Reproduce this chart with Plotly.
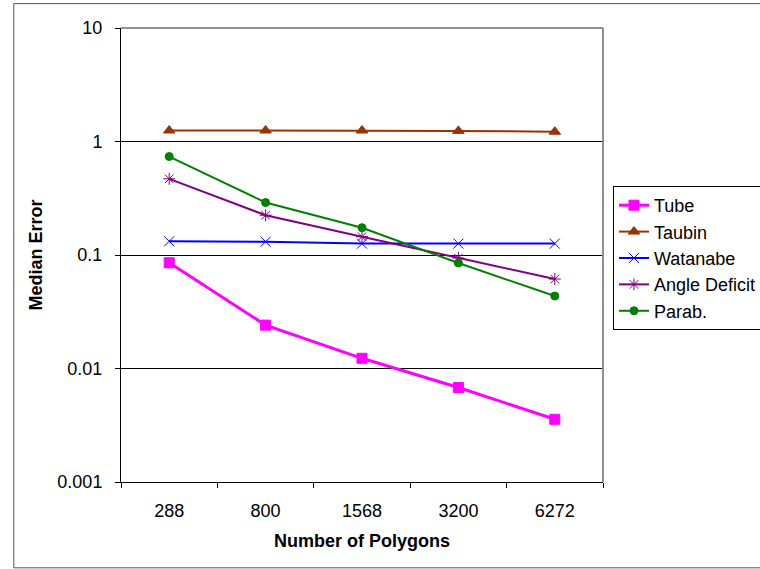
import plotly.graph_objects as go

categories = ["288", "800", "1568", "3200", "6272"]
tube = [0.0855, 0.0241, 0.0123, 0.0068, 0.00357]
taubin = [1.25, 1.25, 1.25, 1.24, 1.22]
watanabe = [0.132, 0.131, 0.126, 0.126, 0.126]
angle_deficit = [0.469, 0.224, 0.145, 0.094, 0.0614]
parab = [0.737, 0.290, 0.174, 0.085, 0.0435]

y_tickvals = [0.001, 0.01, 0.1, 1, 10]
y_ticktext = ["0.001", "0.01", "0.1", "1", "10"]

FONT = "Liberation Sans, Arial, sans-serif"

series = [
    ("Tube", tube, "#FF00FF", "square", 10, 3),
    ("Taubin", taubin, "#993300", "triangle-up", 10, 2),
    ("Watanabe", watanabe, "#0000FF", "x-thin-open", 10, 2),
    ("Angle Deficit", angle_deficit, "#800080", "asterisk-open", 10, 2),
    ("Parab.", parab, "#008000", "circle", 8, 2),
]

fig = go.Figure()
for name, vals, color, sym, msize, lw in series:
    fig.add_trace(go.Scatter(
        x=categories, y=vals, name=name, mode="lines+markers",
        legendgroup=name,
        line=dict(color=color, width=lw),
        marker=dict(symbol=sym, size=msize, color=color,
                    line=dict(color=color, width=1)),
    ))

W = 820
fig.update_layout(
    width=W, height=569,
    margin=dict(l=121, r=W - 603, t=28, b=87),
    paper_bgcolor="white", plot_bgcolor="white",
    font=dict(family=FONT, size=18, color="black"),
    showlegend=True,
    legend=dict(
        x=1.0207, y=0.652, xanchor="left", yanchor="top",
        bordercolor="black", borderwidth=1, bgcolor="white",
        font=dict(family=FONT, size=18, color="black"),
        tracegroupgap=0, itemwidth=30,
        entrywidth=120, entrywidthmode="pixels",
    ),
    xaxis=dict(
        type="category", range=[-0.5, 4.5],
        showline=True, linecolor="black", linewidth=1,
        ticks="outside", tickson="boundaries", ticklen=5, tickcolor="black",
        showgrid=False, zeroline=False, ticklabelstandoff=12,
        tickfont=dict(family=FONT, size=18),
        title=dict(text="<b>Number of Polygons</b>", font=dict(family=FONT, size=18), standoff=14),
    ),
    yaxis=dict(
        type="log", range=[-3, 1],
        tickvals=y_tickvals, ticktext=y_ticktext,
        showline=True, linecolor="black", linewidth=1,
        ticks="outside", ticklen=5, tickcolor="black",
        showgrid=True, gridcolor="black", gridwidth=1, zeroline=False,
        ticklabelstandoff=9,
        tickfont=dict(family=FONT, size=18),
        title=dict(text="<b>Median Error</b>", font=dict(family=FONT, size=18), standoff=10),
    ),
    shapes=[
        dict(type="line", xref="paper", yref="paper", x0=0, x1=1, y0=1, y1=1,
             line=dict(color="#909090", width=2), layer="above"),
        dict(type="line", xref="paper", yref="paper", x0=1, x1=1, y0=0, y1=1,
             line=dict(color="#909090", width=2), layer="above"),
        dict(type="rect", xref="paper", yref="paper", x0=-0.2224, x1=1.45, y0=-0.189, y1=1.0537,
             line=dict(color="#555555", width=1), layer="below"),
    ],
)

fig.write_html(
    "out.html",
    config={"displayModeBar": False},
    post_script="document.body.style.margin='0';document.body.style.overflow='hidden';",
)
